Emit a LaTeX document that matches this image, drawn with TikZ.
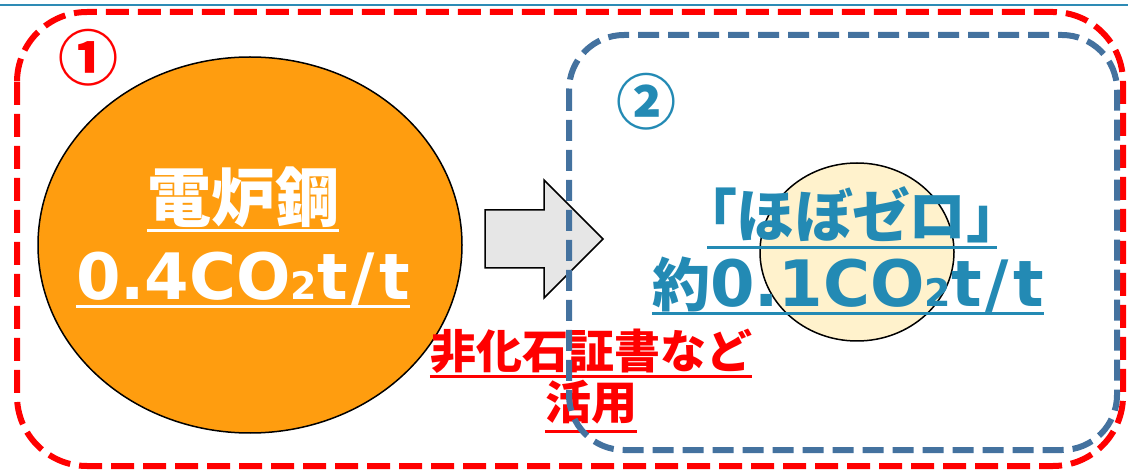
\documentclass[tikz,border=0pt]{standalone}
\usepackage{fontspec}
\usetikzlibrary{shapes.geometric}
\newfontfamily\jp{Noto Sans CJK JP}
\newfontfamily\jpp{Noto Sans CJK JP}[RawFeature=+palt]
\newfontfamily\lat{DejaVu Sans}
\definecolor{redline}{HTML}{FF0000}
\definecolor{bluedash}{HTML}{44729F}
\definecolor{bluetext}{HTML}{238AB4}
\definecolor{topblue}{HTML}{2E8BB5}
\definecolor{orangefill}{HTML}{FF9D0F}
\definecolor{palefill}{HTML}{FFF2CC}
\definecolor{arrowfill}{HTML}{E6E6E6}
\tikzset{
  topline/.style={draw=topblue, line width=2pt},
  reddash/.style={draw=redline, line width=6pt, dash pattern=on 23pt off 9pt, rounded corners=70pt},
  bluebox/.style={draw=bluedash, line width=6pt, dash pattern=on 21pt off 9pt, rounded corners=55pt},
  blob/.style={ellipse, draw=black, line width=1.5pt, inner sep=0pt},
  txt/.style={inner sep=0pt, anchor=base},
  ul/.style={line width=3pt},
  blockarrow/.style={draw=black, line width=1.5pt, fill=arrowfill, line join=miter},
}
\newcommand{\subtwo}[1]{{\fontsize{#1}{#1}\selectfont 2}}
\newcommand{\perslash}{\kern4pt/\kern4pt}
\begin{document}
\begin{tikzpicture}[x=1pt,y=-1pt]
\useasboundingbox (0,0) rectangle (1128,470);
% top rule
\coordinate (tl) at (0,5);
\coordinate (tr) at (1128,5);
\draw[topline] (tl) -- (tr);
% red dashed frame
\draw[reddash] (17,12) rectangle (1123,466);
% orange ellipse
\node[blob, fill=orangefill, minimum width=424pt, minimum height=376pt] (steel) at (250,245) {};
% pale circle
\node[blob, fill=palefill, minimum width=194pt, minimum height=178pt] (zero) at (857,252) {};
% block arrow
\draw[blockarrow] (485,210) -- (544,210) -- (544,180) -- (603,239) -- (544,298) -- (544,268) -- (485,268) -- cycle;
% circled numbers
\node[inner sep=0pt, text=redline] (n1) at (88,58) {\jp\bfseries\fontsize{60}{60}\selectfont ①};
\node[inner sep=0pt, text=bluetext] (n2) at (646,102) {\jp\bfseries\fontsize{60}{60}\selectfont ②};
% orange texts
\node[txt, text=white] (o1) at (243,222) {\jp\bfseries\fontsize{64}{64}\selectfont 電炉鋼};
\node[txt, text=white] (o2) at (243,300) {\lat\bfseries\fontsize{64}{64}\selectfont 0.4CO\subtwo{38}t\perslash t};
\draw[ul, white] ([yshift=-9pt]o1.base west) -- ([yshift=-9pt]o1.base east);
\draw[ul, white] ([yshift=-7pt]o2.base west) -- ([yshift=-7pt]o2.base east);
% blue texts
\node[txt, text=bluetext] (b1) at (852,238) {\jpp\bfseries\fontsize{58}{58}\selectfont 「ほぼゼロ」};
\node[txt, text=bluetext] (b2) at (848,307) {\jp\bfseries\fontsize{58}{58}\selectfont 約\lat\fontsize{64}{64}\selectfont 0.1CO\subtwo{38}t\perslash t};
\draw[ul, bluetext] ([yshift=-10pt]b1.base west) -- ([yshift=-10pt]b1.base east);
\draw[ul, bluetext] ([yshift=-7pt]b2.base west) -- ([yshift=-7pt]b2.base east);
% red texts
\node[txt, text=redline] (r1) at (591,369) {\jp\bfseries\fontsize{46}{46}\selectfont 非化石証書など};
\node[txt, text=redline] (r2) at (591,420) {\jp\bfseries\fontsize{46}{46}\selectfont 活用};
\draw[ul, redline] ([yshift=-8pt]r1.base west) -- ([yshift=-8pt]r1.base east);
\draw[ul, redline] ([yshift=-12pt]r2.base west) -- ([yshift=-12pt]r2.base east);
% blue dashed frame
\draw[bluebox] (569,35) rectangle (1117,450);
\end{tikzpicture}
\end{document}
